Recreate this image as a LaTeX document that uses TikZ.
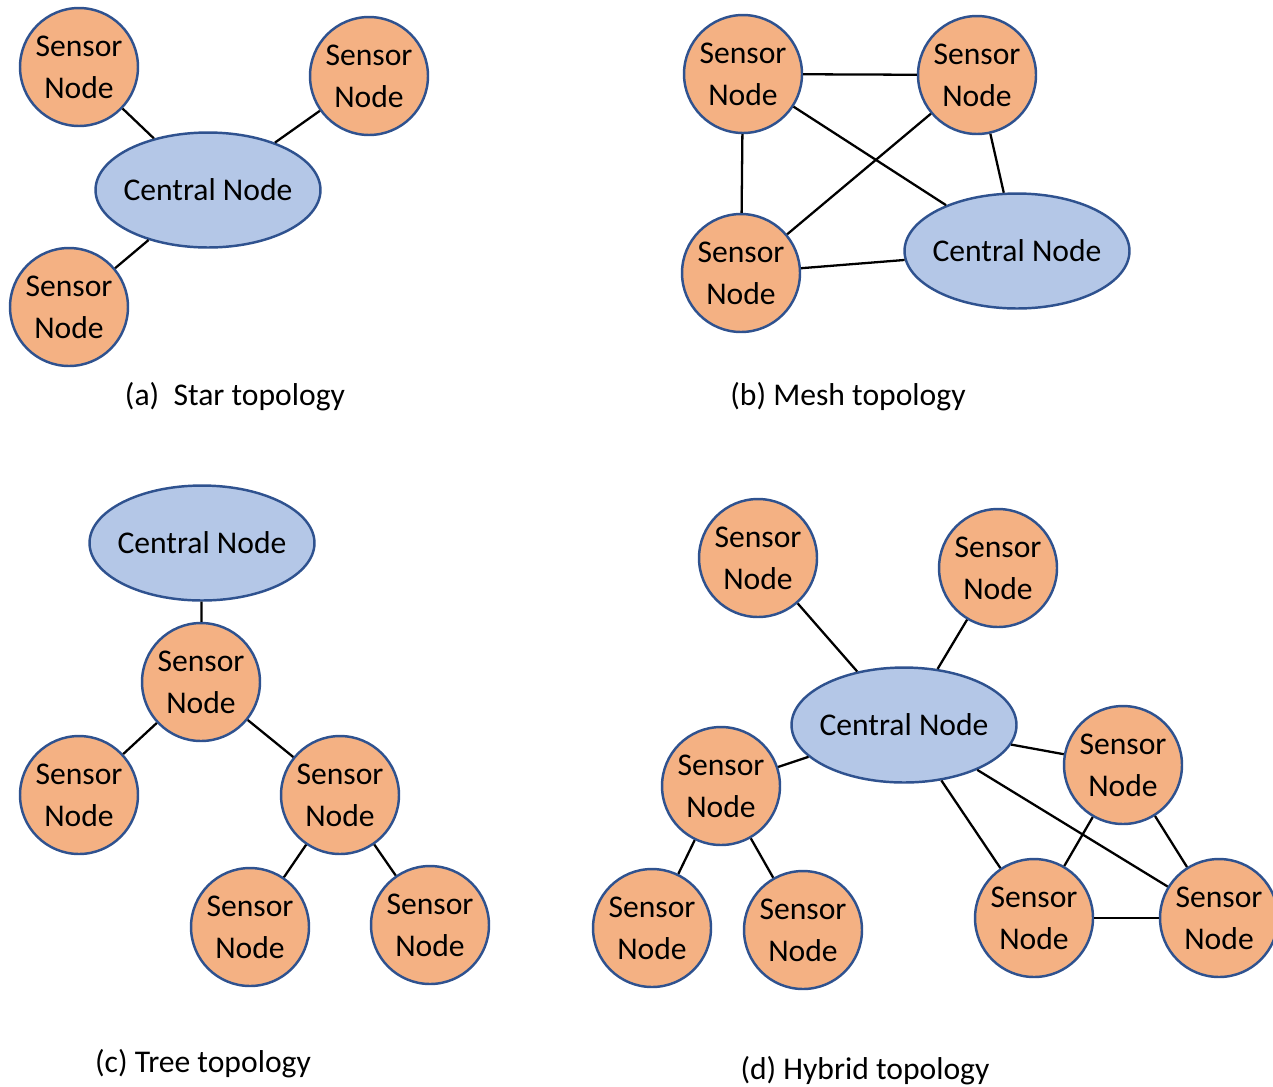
\documentclass[tikz,border=0pt]{standalone}
\usepackage{fontspec}
\setmainfont{Carlito}
\definecolor{sensorfill}{HTML}{F4B183}
\definecolor{centralfill}{HTML}{B4C7E7}
\definecolor{nodeborder}{HTML}{2F528F}
\tikzset{
  sensor/.style={circle,draw=nodeborder,fill=sensorfill,line width=1.4pt,
    minimum size=2.36cm,inner sep=0pt,align=center,
    font=\fontsize{18}{24}\selectfont},
  central/.style={ellipse,draw=nodeborder,fill=centralfill,line width=1.4pt,
    minimum width=4.5cm,minimum height=2.3cm,inner ysep=0pt,inner xsep=-0.4cm,
    font=\fontsize{18}{24}\selectfont},
  link/.style={line width=1.3pt,black},
  caption/.style={font=\fontsize{18}{24}\selectfont}
}
\usetikzlibrary{shapes.geometric}
\begin{document}
\begin{tikzpicture}[x=0.02cm,y=-0.02cm]
  \useasboundingbox (0,0) rectangle (1273,1086);
  %(a) star
  \node[central] (ac) at (208,190) {Central Node};
  \node[sensor] (as1) at (79,67) {Sensor\\Node};
  \node[sensor] (as2) at (369,76) {Sensor\\Node};
  \node[sensor] (as3) at (69,307) {Sensor\\Node};
  \draw[link] (ac) -- (as1);
  \draw[link] (ac) -- (as2);
  \draw[link] (ac) -- (as3);
  \node[caption] (acap) at (235,397) {(a)\ \ Star topology};
  %(b) mesh
  \node[central] (bc) at (1017,251) {Central Node};
  \node[sensor] (bs1) at (743,74) {Sensor\\Node};
  \node[sensor] (bs2) at (977,75) {Sensor\\Node};
  \node[sensor] (bs3) at (741,273) {Sensor\\Node};
  \draw[link] (bs1) -- (bs2);
  \draw[link] (bs1) -- (bs3);
  \draw[link] (bs1) -- (bc);
  \draw[link] (bs3) -- (bs2);
  \draw[link] (bs2) -- (bc);
  \draw[link] (bs3) -- (bc);
  \node[caption] (bcap) at (848,397) {(b) Mesh topology};
  %(c) tree
  \node[central] (cc) at (202,543) {Central Node};
  \node[sensor] (cs1) at (201,682) {Sensor\\Node};
  \node[sensor] (cs2) at (79,795) {Sensor\\Node};
  \node[sensor] (cs3) at (340,795) {Sensor\\Node};
  \node[sensor] (cs4) at (250,927) {Sensor\\Node};
  \node[sensor] (cs5) at (430,925) {Sensor\\Node};
  \draw[link] (cc) -- (cs1);
  \draw[link] (cs1) -- (cs2);
  \draw[link] (cs1) -- (cs3);
  \draw[link] (cs3) -- (cs4);
  \draw[link] (cs3) -- (cs5);
  \node[caption] (ccap) at (203,1064) {(c) Tree topology};
  %(d) hybrid
  \node[central] (dc) at (904,725) {Central Node};
  \node[sensor] (ds1) at (758,558) {Sensor\\Node};
  \node[sensor] (ds2) at (998,568) {Sensor\\Node};
  \node[sensor] (ds3) at (721,786) {Sensor\\Node};
  \node[sensor] (ds4) at (1123,765) {Sensor\\Node};
  \node[sensor] (ds5) at (652,928) {Sensor\\Node};
  \node[sensor] (ds6) at (803,930) {Sensor\\Node};
  \node[sensor] (ds7) at (1034,918) {Sensor\\Node};
  \node[sensor] (ds8) at (1219,918) {Sensor\\Node};
  \draw[link] (dc) -- (ds1);
  \draw[link] (dc) -- (ds2);
  \draw[link] (dc) -- (ds3);
  \draw[link] (dc) -- (ds4);
  \draw[link] (ds3) -- (ds5);
  \draw[link] (ds3) -- (ds6);
  \draw[link] (dc) -- (ds7);
  \draw[link] (dc) -- (ds8);
  \draw[link] (ds4) -- (ds7);
  \draw[link] (ds4) -- (ds8);
  \draw[link] (ds7) -- (ds8);
  \node[caption] (dcap) at (865,1071) {(d) Hybrid topology};
\end{tikzpicture}
\end{document}
